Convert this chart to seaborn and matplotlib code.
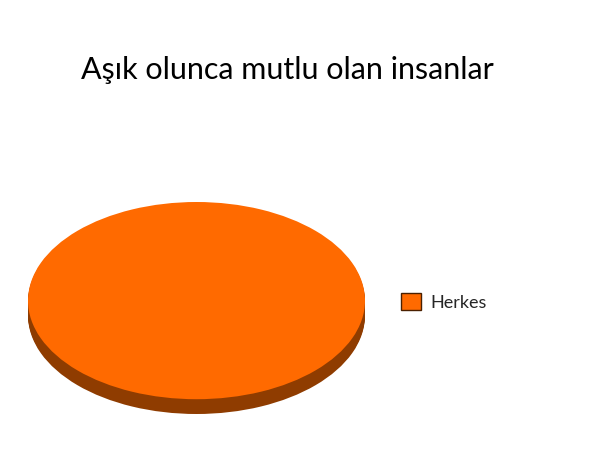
import matplotlib
matplotlib.use("Agg")
import matplotlib.pyplot as plt
import seaborn as sns

labels = ["Herkes"]
values = [100]
top_colors = ["#ff6a00"]
side_colors = ["#8f3c00"]

sns.set_theme(style="white")
plt.rcParams["font.family"] = ["Lato", "DejaVu Sans"]

fig = plt.figure(figsize=(6, 4.54), dpi=100)
fig.patch.set_facecolor("white")
ax = fig.add_axes([28 / 600, 1 - 414 / 454, 337 / 600, 212 / 454])

depth = 0.15
steps = 12
for k in range(steps, 0, -1):
    ax.pie(values, colors=side_colors, startangle=90, counterclock=False,
           center=(0, -depth * k / steps), radius=1,
           wedgeprops=dict(linewidth=0))
wedges, _ = ax.pie(values, colors=top_colors, startangle=90, counterclock=False,
                   center=(0, 0), radius=1, wedgeprops=dict(linewidth=0))

ax.set_aspect("auto")
ax.set_xlim(-1.0, 1.0)
ax.set_ylim(-1.0 - depth, 1.0)
ax.axis("off")

fig.text(287 / 600, 1 - 70 / 454, "Aşık olunca mutlu olan insanlar",
         ha="center", va="center", fontsize=22, color="black")

leg = fig.legend(wedges, labels, loc="center left",
                 bbox_to_anchor=(401 / 600, 1 - 302 / 454), frameon=False,
                 fontsize=13, handlelength=1.1, handleheight=1.1,
                 handletextpad=0.55, borderpad=0, borderaxespad=0)
for h in leg.legend_handles:
    h.set_edgecolor("#4a2000")
    h.set_linewidth(1.0)

fig.savefig("out.png", dpi=100, facecolor="white")
